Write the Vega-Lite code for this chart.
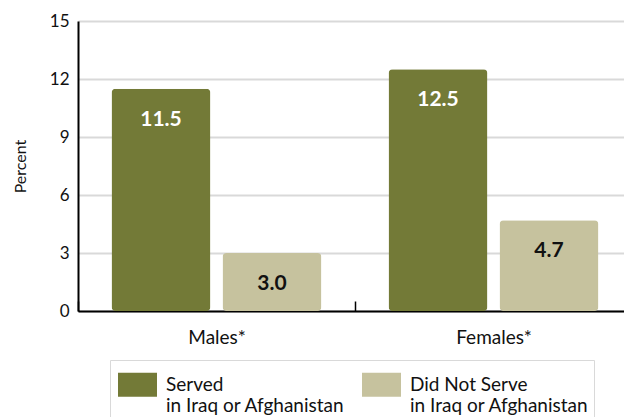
{
  "$schema": "https://vega.github.io/schema/vega-lite/v6.json",
  "width": 546,
  "height": 290,
  "autosize": {"type": "none"},
  "padding": {"left": 78, "top": 21, "right": 0, "bottom": 106},
  "background": "white",
  "config": {
    "font": "Lato",
    "view": {"stroke": null}
  },
  "data": {
    "values": [
      {"sex": "Males*", "group": "Served|in Iraq or Afghanistan", "value": 11.5, "label": "11.5"},
      {"sex": "Males*", "group": "Did Not Serve|in Iraq or Afghanistan", "value": 3.0, "label": "3.0"},
      {"sex": "Females*", "group": "Served|in Iraq or Afghanistan", "value": 12.5, "label": "12.5"},
      {"sex": "Females*", "group": "Did Not Serve|in Iraq or Afghanistan", "value": 4.7, "label": "4.7"}
    ]
  },
  "encoding": {
    "x": {
      "field": "sex", "type": "nominal", "sort": ["Males*", "Females*"],
      "scale": {"paddingInner": 0.242, "paddingOuter": 0.1065, "align": 0.568},
      "axis": {
        "title": null, "labelAngle": 0, "labelFontSize": 19, "labelColor": "#111",
        "domainColor": "#000", "domainWidth": 2,
        "tickOffset": -138.5, "labelOffset": 138.5,
        "tickColor": "#000", "tickWidth": 1.5, "tickSize": -10, "labelPadding": 27
      }
    },
    "xOffset": {
      "field": "group", "type": "nominal",
      "sort": ["Served|in Iraq or Afghanistan", "Did Not Serve|in Iraq or Afghanistan"],
      "scale": {"paddingInner": 0.108, "paddingOuter": 0}
    },
    "y": {
      "field": "value", "type": "quantitative",
      "scale": {"domain": [0, 15]},
      "axis": {
        "title": "Percent", "titleFont": "Lato", "titleFontSize": 16, "titleFontWeight": "normal",
        "titleColor": "#111", "titlePadding": 21,
        "values": [0, 3, 6, 9, 12, 15], "labelFontSize": 17, "labelColor": "#111",
        "domainColor": "#000", "domainWidth": 2, "ticks": false, "labelPadding": 9,
        "gridColor": "#d9d9d9", "gridWidth": 2
      }
    }
  },
  "layer": [
    {
      "mark": {"type": "bar", "cornerRadius": 4},
      "encoding": {
        "color": {
          "field": "group", "type": "nominal",
          "sort": ["Served|in Iraq or Afghanistan", "Did Not Serve|in Iraq or Afghanistan"],
          "scale": {"range": ["#737a37", "#c6c29e"]},
          "legend": {
            "title": null, "orient": "none", "legendX": 32, "legendY": 339,
            "direction": "horizontal", "columns": 2, "columnPadding": 14,
            "labelExpr": "split(datum.label, '|')", "labelFontSize": 19, "labelColor": "#111",
            "labelLimit": 300, "labelOffset": 9,
            "symbolType": "M-1,-0.615L1,-0.615L1,0.615L-1,0.615Z", "symbolSize": 1521,
            "symbolStrokeWidth": 0, "symbolOpacity": 1, "symbolOffset": 3,
            "strokeColor": "#d9d9d9", "fillColor": "white",
            "padding": 5
          }
        }
      }
    },
    {
      "mark": {"type": "text", "dy": 31, "baseline": "middle", "fontSize": 21, "fontWeight": "bold"},
      "encoding": {
        "text": {"field": "label"},
        "color": {
          "condition": {"test": "datum.value > 10", "value": "white"},
          "value": "#111"
        }
      }
    }
  ]
}
